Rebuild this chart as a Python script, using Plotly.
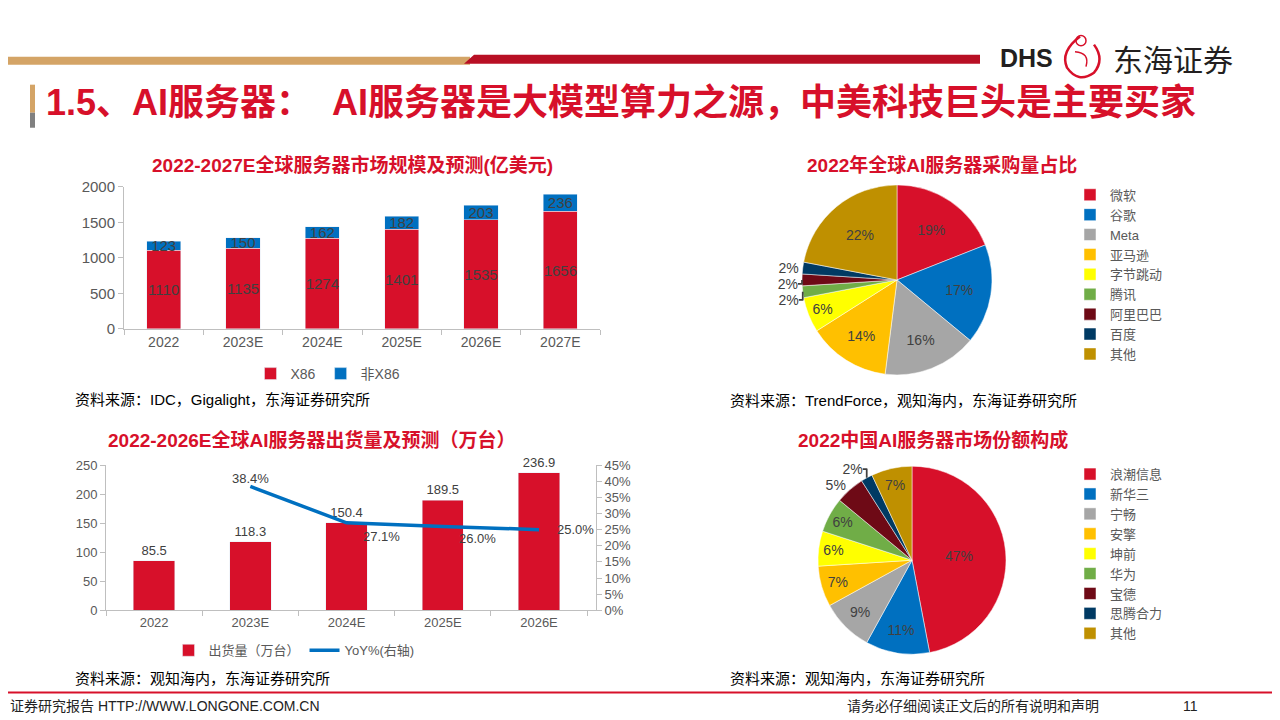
import plotly.graph_objects as go

# ---- data ----
years_mkt = ["2022", "2023E", "2024E", "2025E", "2026E", "2027E"]
x86 = [1110, 1135, 1274, 1401, 1535, 1656]
non_x86 = [123, 150, 162, 182, 203, 236]

buyers = ["微软", "谷歌", "Meta", "亚马逊", "字节跳动", "腾讯", "阿里巴巴", "百度", "其他"]
buyer_share = [19, 17, 16, 14, 6, 2, 2, 2, 22]

years_ship = ["2022", "2023E", "2024E", "2025E", "2026E"]
shipments = [85.5, 118.3, 150.4, 189.5, 236.9]
yoy_years = ["2023E", "2024E", "2025E", "2026E"]
yoy = [38.4, 27.1, 26.0, 25.0]

vendors = ["浪潮信息", "新华三", "宁畅", "安擎", "坤前", "华为", "宝德", "思腾合力", "其他"]
vendor_share = [47, 11, 9, 7, 6, 6, 5, 2, 7]

RED = "#D7102A"
BLUE = "#0070C0"
PIE_COLORS = ["#D7102A", "#0070C0", "#A6A6A6", "#FFC000", "#FFFF00",
              "#70AD47", "#6E0A16", "#003A63", "#BF9000"]
FONT = "Liberation Sans, Arial, Noto Sans CJK SC"
CJK = "Noto Sans CJK SC"
AXIS_GREY = "#BFBFBF"
TICK_GREY = "#595959"
LABEL_GREY = "#404040"

# the page body keeps its default 8px margin, so the figure is offset by 8px
OFF = 8
W, H = 1280 - OFF, 720 - OFF


def px(x):
    return (x - OFF) / W


def py(y):
    # vertical placement calibrated against the rendered page
    y_in = (y - 9.6) / 0.975
    return 1 - (y_in - OFF) / H


fig = go.Figure()

# chart 1: market size, stacked bars
for vals, name, color in [(x86, "X86", RED), (non_x86, "非X86", BLUE)]:
    fig.add_trace(go.Bar(
        x=years_mkt, y=vals, name=name, marker_color=color, legend="legend",
        text=vals, textposition="inside", insidetextanchor="middle", textangle=0,
        constraintext="none", textfont=dict(color=LABEL_GREY, size=15),
        xaxis="x", yaxis="y",
    ))

# chart 3: AI server shipments + YoY
fig.add_trace(go.Bar(
    x=years_ship, y=shipments, name="出货量（万台）", marker_color=RED, legend="legend3",
    text=[f"{v:.1f}" for v in shipments], textposition="outside", cliponaxis=False,
    textfont=dict(color=LABEL_GREY, size=13), xaxis="x2", yaxis="y2",
))
fig.add_trace(go.Scatter(
    x=yoy_years, y=yoy, name="YoY%(右轴)", mode="lines", legend="legend3",
    line=dict(color=BLUE, width=3.5), xaxis="x2", yaxis="y3",
))
# YoY labels placed next to their points
label_shift = [(0, 8, "center"), (35, -14, "center"), (35, -12, "center"), (16, 0, "left")]
for yr, v, (dx, dy, anc) in zip(yoy_years, yoy, label_shift):
    fig.add_annotation(x=yr, y=v, xref="x2", yref="y3", text=f"{v:.1f}%", showarrow=False,
                       xshift=dx, yshift=dy, xanchor=anc, yanchor="middle",
                       font=dict(color=LABEL_GREY, size=13, family=FONT))

# chart 2: global AI server purchases pie
fig.add_trace(go.Pie(
    labels=buyers, values=buyer_share, sort=False, direction="clockwise", rotation=0,
    marker=dict(colors=PIE_COLORS, line=dict(color="white", width=0.5)),
    texttemplate="%{percent:.0%}", insidetextorientation="horizontal",
    textposition=["inside"] * 5 + ["outside"] * 3 + ["inside"],
    textfont=dict(color=LABEL_GREY, size=14), legend="legend2",
    domain=dict(x=[px(802), px(992)], y=[py(375), py(185)]),
))

# chart 4: China AI server market share pie (trailing space keeps its legend entries separate)
fig.add_trace(go.Pie(
    labels=[v + " " for v in vendors], values=vendor_share, sort=False,
    direction="clockwise", rotation=0,
    marker=dict(colors=PIE_COLORS, line=dict(color="white", width=0.5)),
    texttemplate="%{percent:.0%}", insidetextorientation="horizontal",
    textposition=["inside"] * 6 + ["outside"] * 2 + ["inside"],
    textfont=dict(color=LABEL_GREY, size=14), legend="legend4",
    domain=dict(x=[px(818), px(1006)], y=[py(654), py(466)]),
))

axis_common = dict(showgrid=False, showline=True, linecolor=AXIS_GREY, linewidth=1,
                   ticks="outside", tickcolor=AXIS_GREY, ticklen=5, zeroline=False)

fig.update_layout(
    width=W, height=H, margin=dict(l=0, r=0, t=0, b=0),
    paper_bgcolor="white", plot_bgcolor="white",
    font=dict(family=FONT, color=TICK_GREY),
    barmode="stack", bargap=0.57, showlegend=True,
    xaxis=dict(domain=[px(124), px(600)], anchor="y", type="category",
               tickson="boundaries", tickfont=dict(size=14, color=TICK_GREY), **axis_common),
    yaxis=dict(domain=[py(329), py(187)], anchor="x", range=[0, 2000], dtick=500,
               tickfont=dict(size=15, color=TICK_GREY), **axis_common),
    xaxis2=dict(domain=[px(106), px(596)], anchor="y2", type="category",
                tickson="boundaries", tickfont=dict(size=13, color=TICK_GREY), **axis_common),
    yaxis2=dict(domain=[py(610), py(465)], anchor="x2", range=[0, 250], dtick=50,
                tickfont=dict(size=13, color=TICK_GREY), **axis_common),
    yaxis3=dict(domain=[py(610), py(465)], anchor="x2", overlaying="y2", side="right",
                range=[0, 45], dtick=5, ticksuffix="%",
                tickfont=dict(size=13, color=TICK_GREY), **axis_common),
    legend=dict(orientation="h", x=px(328), xanchor="center", y=py(374), yanchor="middle",
                font=dict(size=14, color=TICK_GREY), itemwidth=30, traceorder="normal"),
    legend2=dict(x=px(1070), xanchor="left", y=py(180), yanchor="top",
                 font=dict(size=13, color=TICK_GREY), itemwidth=30),
    legend3=dict(orientation="h", x=px(294), xanchor="center", y=py(650), yanchor="middle",
                 font=dict(size=13, color=TICK_GREY), itemwidth=30, traceorder="normal"),
    legend4=dict(x=px(1070), xanchor="left", y=py(459), yanchor="top",
                 font=dict(size=13, color=TICK_GREY), itemwidth=30),
)

# ---- page decoration: header bars, logo, title, footer ----
paper = dict(xref="paper", yref="paper")
shapes = [
    dict(type="rect", x0=px(0), x1=px(470), y0=py(65), y1=py(57),
         fillcolor="#D4A466", line_width=0, **paper),
    dict(type="path", path=f"M {px(464)} {py(64)} L {px(474)} {py(55)} L {px(980)} {py(55)} "
                           f"L {px(980)} {py(64)} Z",
         fillcolor="#B80F24", line_width=0, **paper),
    dict(type="rect", x0=px(30), x1=px(35), y0=py(113), y1=py(85),
         fillcolor="#D4A466", line_width=0, **paper),
    dict(type="rect", x0=px(30), x1=px(35), y0=py(128), y1=py(113),
         fillcolor="#808080", line_width=0, **paper),
    # dragon swirl of the logo
    dict(type="path",
         path=f"M {px(1080)} {py(37)} Q {px(1060)} {py(52)} {px(1067)} {py(68)} "
              f"Q {px(1078)} {py(84)} {px(1094)} {py(73)} Q {px(1105)} {py(60)} {px(1094)} {py(45)}",
         line=dict(color="#D7102A", width=2.5), **paper),
    dict(type="path",
         path=f"M {px(1075)} {py(52)} Q {px(1090)} {py(53)} {px(1086)} {py(67)}",
         line=dict(color="#D7102A", width=1.5), **paper),
    dict(type="circle", x0=px(1076), x1=px(1086), y0=py(46), y1=py(36),
         line=dict(color="#D7102A", width=1.5), **paper),
    # footer line
    dict(type="line", x0=0, x1=1, y0=py(692), y1=py(692),
         line=dict(color="#D7102A", width=2), **paper),
]
fig.update_layout(shapes=shapes)


def note(x, y, text, size, color="#000000", anchor="left", bold=False, family=CJK):
    fig.add_annotation(x=px(x), y=py(y), xref="paper", yref="paper", text=text,
                       showarrow=False, xanchor=anchor, yanchor="middle",
                       font=dict(size=size, color=color, family=family,
                                 weight="bold" if bold else "normal"))


TITLE_FONT = "Liberation Sans, Noto Sans CJK SC"
note(998, 58, "DHS", 25, "#231F20", bold=True, family="Liberation Sans, Arial")
note(1111, 58, "东海证券", 30, "#231F20", family=CJK)
note(44, 103, "1.5、AI服务器：  AI服务器是大模型算力之源，中美科技巨头是主要买家", 36, RED,
     bold=True, family=TITLE_FONT)

note(352, 165, "2022-2027E全球服务器市场规模及预测(亿美元)", 19, RED, "center", True, TITLE_FONT)
note(942, 165, "2022年全球AI服务器采购量占比", 19, RED, "center", True, TITLE_FONT)
note(312, 440, "2022-2026E全球AI服务器出货量及预测（万台）", 19, RED, "center", True, TITLE_FONT)
note(933, 440, "2022中国AI服务器市场份额构成", 19, RED, "center", True, TITLE_FONT)

note(73, 399, "资料来源：IDC，Gigalight，东海证券研究所", 15, family=FONT)
note(728, 400, "资料来源：TrendForce，观知海内，东海证券研究所", 15, family=FONT)
note(73, 678, "资料来源：观知海内，东海证券研究所", 15, family=FONT)
note(728, 678, "资料来源：观知海内，东海证券研究所", 15, family=FONT)

note(8, 706, "证券研究报告 HTTP://WWW.LONGONE.COM.CN", 14, "#222222", family=FONT)
note(845, 706, "请务必仔细阅读正文后的所有说明和声明", 14, "#222222", family=FONT)
note(1190, 706, "11", 14, "#222222", "center", family=FONT)

fig.write_html("out.html")
